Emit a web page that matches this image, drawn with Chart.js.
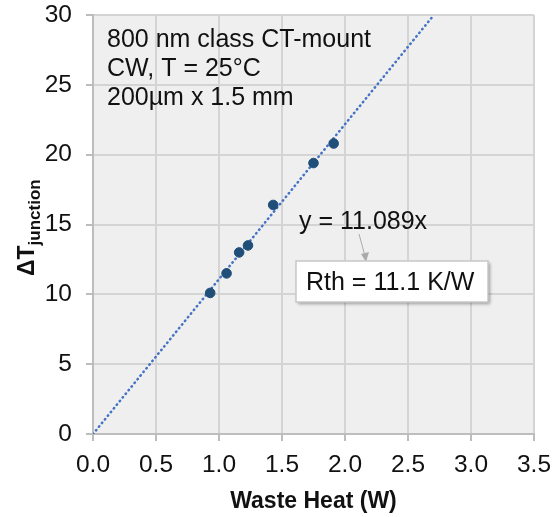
<!DOCTYPE html>
<html>
<head>
<meta charset="utf-8">
<script src="https://cdn.jsdelivr.net/npm/chart.js@4"></script>
<style>
  body { margin: 0; background: #fff; }
  #wrap { width: 555px; height: 517px; }
</style>
</head>
<body>
<div id="wrap"><canvas id="grafico" width="555" height="517"></canvas></div>
<script>
// dados
const wasteHeat = [0.93, 1.06, 1.16, 1.23, 1.43, 1.75, 1.91];
const deltaT = [10.1, 11.5, 13.0, 13.5, 16.4, 19.4, 20.8];

// linha de tendência (y = 11.089x)
const trendX = [0, 2.705];
const trendY = [0, 30];

const xTicks = [0, 0.5, 1, 1.5, 2, 2.5, 3, 3.5];
const yTicks = [0, 5, 10, 15, 20, 25, 30];

const notas = ['800 nm class CT-mount', 'CW, T = 25°C', '200µm x 1.5 mm'];
const equacao = 'y = 11.089x';
const caixa = 'Rth = 11.1 K/W';

const FONTE = '"Liberation Sans", Arial, sans-serif';

// fundo cinza da área do gráfico
const fundoPlugin = {
  id: 'fundo',
  beforeDraw(chart) {
    const { ctx, chartArea: a } = chart;
    ctx.save();
    ctx.fillStyle = '#efefef';
    ctx.fillRect(a.left, a.top, a.right - a.left, a.bottom - a.top);
    ctx.restore();
  }
};

// textos, caixa e título do eixo y
const textosPlugin = {
  id: 'textos',
  afterDraw(chart) {
    const ctx = chart.ctx;
    ctx.save();
    ctx.fillStyle = '#111';
    ctx.font = '25px ' + FONTE;
    ctx.textBaseline = 'alphabetic';
    notas.forEach((t, i) => ctx.fillText(t, 107, 47 + i * 29));

    // equação
    ctx.fillText(equacao, 299, 229);

    // seta
    ctx.strokeStyle = '#aaa';
    ctx.fillStyle = '#aaa';
    ctx.lineWidth = 1;
    ctx.beginPath();
    ctx.moveTo(359, 234);
    ctx.lineTo(365, 256);
    ctx.stroke();
    ctx.beginPath();
    ctx.moveTo(361, 254);
    ctx.lineTo(369, 252);
    ctx.lineTo(366, 262);
    ctx.closePath();
    ctx.fill();

    // caixa
    ctx.shadowColor = 'rgba(0,0,0,0.35)';
    ctx.shadowBlur = 3;
    ctx.shadowOffsetX = 2;
    ctx.shadowOffsetY = 2;
    ctx.fillStyle = '#fff';
    ctx.fillRect(296, 261, 192, 41);
    ctx.shadowColor = 'transparent';
    ctx.strokeStyle = '#c8c8c8';
    ctx.lineWidth = 1.5;
    ctx.strokeRect(296, 261, 192, 41);
    ctx.fillStyle = '#111';
    ctx.fillText(caixa, 306, 290);

    // título eixo y: ΔT com subscrito
    ctx.translate(34, 276);
    ctx.rotate(-Math.PI / 2);
    ctx.font = 'bold 23px ' + FONTE;
    ctx.fillText('ΔT', 0, 0);
    const w = ctx.measureText('ΔT').width;
    ctx.font = 'bold 17px ' + FONTE;
    ctx.fillText('junction', w, 6);
    ctx.restore();
  }
};

const ctx = document.getElementById('grafico').getContext('2d');

new Chart(ctx, {
  type: 'scatter',
  data: {
    datasets: [
      {
        label: 'Trend',
        type: 'line',
        data: trendX.map((x, i) => ({ x, y: trendY[i] })),
        borderColor: '#4472c4',
        borderWidth: 2.5,
        borderDash: [0.5, 4.2],
        borderCapStyle: 'round',
        pointRadius: 0,
        fill: false,
        order: 2
      },
      {
        label: 'ΔT',
        data: wasteHeat.map((x, i) => ({ x, y: deltaT[i] })),
        backgroundColor: '#1f4e79',
        borderColor: '#1f4e79',
        pointRadius: 4.8,
        order: 1
      }
    ]
  },
  options: {
    responsive: false,
    animation: false,
    layout: { padding: { top: 15, right: 21, left: 0, bottom: 0 } },
    plugins: {
      legend: { display: false },
      tooltip: { enabled: false }
    },
    scales: {
      x: {
        type: 'linear',
        min: 0,
        max: 3.5,
        afterBuildTicks: s => { s.ticks = xTicks.map(v => ({ value: v })); },
        afterFit: s => { s.height = 83; s.paddingLeft = 0; s.paddingRight = 0; },
        grid: { color: '#d4d4d4', lineWidth: 2, tickLength: 7, tickColor: '#bdbdbd' },
        border: { color: '#bdbdbd', width: 2 },
        ticks: {
          color: '#111',
          font: { family: FONTE, size: 24.5 },
          padding: 10,
          maxRotation: 0,
          callback: v => v.toFixed(1)
        },
        title: {
          display: true,
          text: 'Waste Heat (W)',
          color: '#111',
          font: { family: FONTE, size: 23, weight: 'bold' },
          padding: { top: 0, bottom: 2 }
        }
      },
      y: {
        type: 'linear',
        min: 0,
        max: 30,
        afterBuildTicks: s => { s.ticks = yTicks.map(v => ({ value: v })); },
        afterFit: s => { s.width = 93; s.paddingTop = 0; s.paddingBottom = 0; },
        grid: { color: '#d4d4d4', lineWidth: 2, tickLength: 7, tickColor: '#bdbdbd' },
        border: { color: '#bdbdbd', width: 2 },
        ticks: {
          color: '#111',
          font: { family: FONTE, size: 24.5 },
          padding: 14
        }
      }
    }
  },
  plugins: [fundoPlugin, textosPlugin]
});
</script>
</body>
</html>
